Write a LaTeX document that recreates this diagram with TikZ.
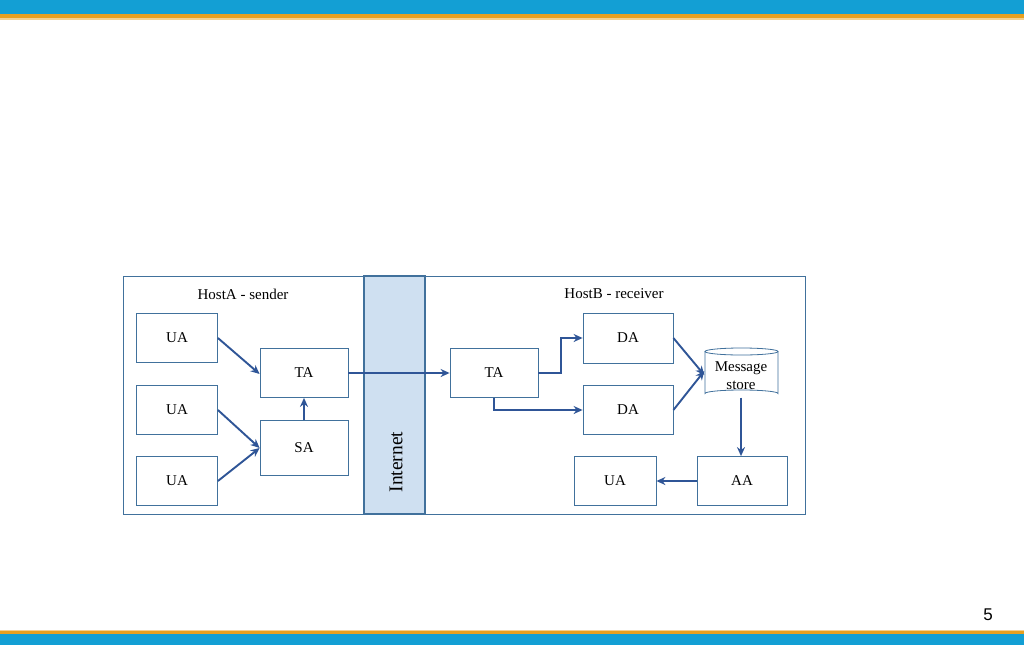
\documentclass[tikz,border=0pt]{standalone}
\usepackage{fontspec}
\setmainfont{Liberation Serif}
\newfontfamily\numfont{Liberation Sans}
\usetikzlibrary{arrows.meta}
\definecolor{bandblue}{HTML}{139FD4}
\definecolor{bandorange}{HTML}{E8A020}
\definecolor{boxline}{HTML}{41719C}
\definecolor{arrowline}{HTML}{2F5597}
\definecolor{netfill}{HTML}{CFE0F1}
\tikzset{
  agent/.style={draw=boxline, line width=0.8pt, fill=white, minimum width=88pt, minimum height=49pt, inner sep=0pt, font=\fontsize{15}{17}\selectfont},
  link/.style={draw=arrowline, line width=1.9pt, -{Stealth[length=9pt,width=8pt]}},
  lbl/.style={font=\fontsize{15}{17}\selectfont, inner sep=0pt}
}
\begin{document}
\begin{tikzpicture}[x=1pt,y=-1pt]
\useasboundingbox (0,0) rectangle (1024,645);
\fill[white] (0,0) rectangle (1024,645);
% bands
\fill[bandblue] (0,0) rectangle (1024,14);
\fill[bandorange] (0,14) rectangle (1024,18);
\fill[bandorange!50] (0,18) rectangle (1024,19.5);
\fill[bandorange!50] (0,629.5) rectangle (1024,631);
\fill[bandorange] (0,631) rectangle (1024,634);
\fill[bandblue] (0,634) rectangle (1024,645);
\node[font=\numfont\fontsize{17}{19}\selectfont] (pg) at (988,615) {5};
% outer box
\draw[boxline, line width=0.8pt] (123,276) rectangle (805,514);
\draw[boxline, line width=1.2pt, fill=netfill] (364,276) rectangle (425,514);
\node[lbl, rotate=90, font=\fontsize{19.5}{21}\selectfont] (net) at (396,462) {Internet};
\node[lbl] (hosta) at (243,294) {HostA - sender};
\node[lbl] (hostb) at (614,294) {HostB - receiver};
% left
\node[agent, minimum width=81pt] (ua1) at (177,338) {UA};
\node[agent, minimum width=81pt] (ua2) at (177,410) {UA};
\node[agent, minimum width=81pt] (ua3) at (177,481) {UA};
\node[agent] (tal) at (304,373) {TA};
\node[agent, minimum height=55pt] (sa) at (304,448) {SA};
% right
\node[agent] (tar) at (494,373) {TA};
\node[agent, minimum width=90pt, minimum height=50pt] (da1) at (628,338) {DA};
\node[agent, minimum width=90pt] (da2) at (628,410) {DA};
% message store (cylinder)
\fill[white] (705,351.5) -- (705,393.5) arc[start angle=180, end angle=360, x radius=36.5, y radius=3.5] -- (778,351.5) arc[start angle=0, end angle=180, x radius=36.5, y radius=3.5] -- cycle;
\draw[boxline, line width=0.8pt] (705,351.5) -- (705,393.5) arc[start angle=180, end angle=360, x radius=36.5, y radius=3.5] -- (778,351.5);
\draw[boxline, line width=0.8pt] (741.5,351.5) ellipse[x radius=36.5, y radius=3.5];
\node[minimum width=73pt, minimum height=49pt, inner sep=0pt] (ms) at (741,373) {};
\node[inner sep=0pt, align=center, font=\fontsize{15}{18}\selectfont] (mstext) at (741,376) {Message\\store};
\node[agent, minimum width=90pt] (aa) at (742,481) {AA};
\node[agent, minimum width=82pt] (uar) at (615,481) {UA};
% connectors
\draw[link] (ua1.east) -- ([yshift=-1pt]tal.west);
\draw[link] (ua2.east) -- (sa.west);
\draw[link] (ua3.east) -- (sa.west);
\draw[link] (sa.north) -- (tal.south);
\draw[link] (tal.east) -- (tar.west);
\draw[link] (tar.east) -| (561,338) -- (da1.west);
\draw[link] (tar.south) |- (da2.west);
\draw[link] (da1.east) -- ([yshift=-2pt]ms.west);
\draw[link] (da2.east) -- ([yshift=2pt]ms.west);
\draw[link] (ms.south) -- (aa.north -| ms.south);
\draw[link] (aa.west) -- (uar.east);
\end{tikzpicture}
\end{document}
